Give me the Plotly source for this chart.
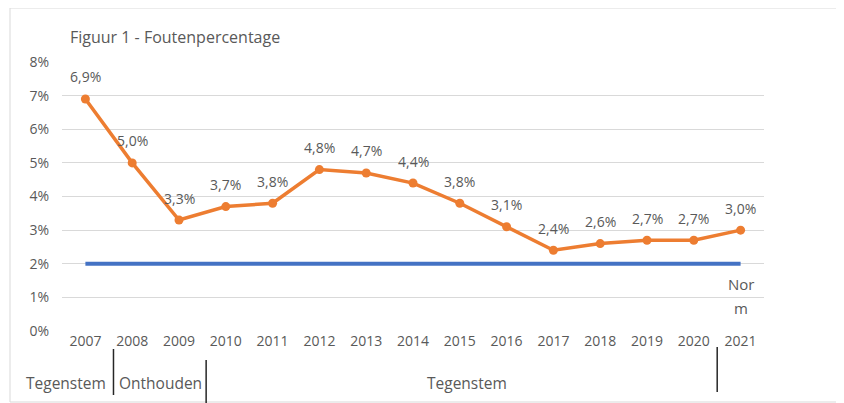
import plotly.graph_objects as go

years = [2007, 2008, 2009, 2010, 2011, 2012, 2013, 2014, 2015, 2016, 2017, 2018, 2019, 2020, 2021]
fout = [6.9, 5.0, 3.3, 3.7, 3.8, 4.8, 4.7, 4.4, 3.8, 3.1, 2.4, 2.6, 2.7, 2.7, 3.0]
norm = [2.0] * len(years)
norm_label = ["Nor", "m"]
groups = ["Tegenstem", "Onthouden", "Tegenstem"]
group_centers = [2006.58, 2008.6, 2015.15]
group_bounds = [2007.6, 2009.58, 2020.5]

labels = [f"{v:.1f}".replace(".", ",") + "%" for v in fout]
font = "Open Sans, Liberation Sans, sans-serif"
gray = "#595959"

W, H = 836, 395
L, R, T, B = 54, 80, 54, 72
pw, ph = W - L - R, H - T - B
x_lo, x_hi = 2006.5, 2021.5


def px(xp):
    return (xp - L) / pw


def py(yp):
    return (H - B - yp) / ph


def xd(v):
    return (v - x_lo) / (x_hi - x_lo)


fig = go.Figure()
fig.add_trace(go.Scatter(
    x=years, y=norm, mode="lines",
    line=dict(color="#4472C4", width=4),
    hoverinfo="skip", showlegend=False))
fig.add_trace(go.Scatter(
    x=years, y=fout, mode="lines+markers",
    line=dict(color="#ED7D31", width=3.5),
    marker=dict(color="#ED7D31", size=9),
    showlegend=False))

shapes = [dict(type="rect", xref="paper", yref="paper", x0=px(2), x1=px(833), y0=py(394), y1=py(0),
               line=dict(color="#D9D9D9", width=1), layer="below")]
spans = [(341, 387), (352, 400), (339, 384)]
for b, (yt, yb) in zip(group_bounds, spans):
    shapes.append(dict(type="line", xref="x", yref="paper", x0=b, x1=b,
                       y0=py(yt), y1=py(yb), line=dict(color="#262626", width=1.5)))

annotations = [dict(x=px(60), y=py(29), xref="paper", yref="paper", xanchor="left", yanchor="middle",
                    text="Figuur 1 - Foutenpercentage", showarrow=False,
                    font=dict(color=gray, size=16, family=font))]
for xv, yv, t in zip(years, fout, labels):
    annotations.append(dict(x=xv, y=yv, text=t, showarrow=False, xanchor="center", yanchor="middle",
                            yshift=22, font=dict(color=gray, size=14, family=font)))
for i, t in enumerate(norm_label):
    annotations.append(dict(x=years[-1], y=norm[-1], text=t, showarrow=False, xanchor="center",
                            yanchor="middle", yshift=-20 - 24 * i,
                            font=dict(color=gray, size=15, family=font)))
for g, c in zip(groups, group_centers):
    annotations.append(dict(x=xd(c), y=py(375), xref="paper", yref="paper", text=g, showarrow=False,
                            xanchor="center", yanchor="middle",
                            font=dict(color=gray, size=15.5, family=font)))

fig.update_layout(
    width=W, height=H,
    margin=dict(l=L, r=R, t=T, b=B),
    paper_bgcolor="white", plot_bgcolor="white",
    font=dict(family=font, color=gray, size=14),
    shapes=shapes, annotations=annotations,
    xaxis=dict(range=[x_lo, x_hi], tickmode="array", tickvals=years,
               ticktext=[str(y) for y in years], showgrid=False, zeroline=False,
               showline=False, ticks="", tickfont=dict(size=14, color=gray)),
    yaxis=dict(range=[0, 8], tickvals=[0, 1, 2, 3, 4, 5, 6, 7, 8],
               ticktext=[f"{v}%" for v in range(9)], showgrid=True, gridcolor="#D9D9D9",
               gridwidth=1, zeroline=False, showline=False, ticks="",
               tickfont=dict(size=14, color=gray), ticklabelstandoff=12),
)
fig.write_html("out.html")
